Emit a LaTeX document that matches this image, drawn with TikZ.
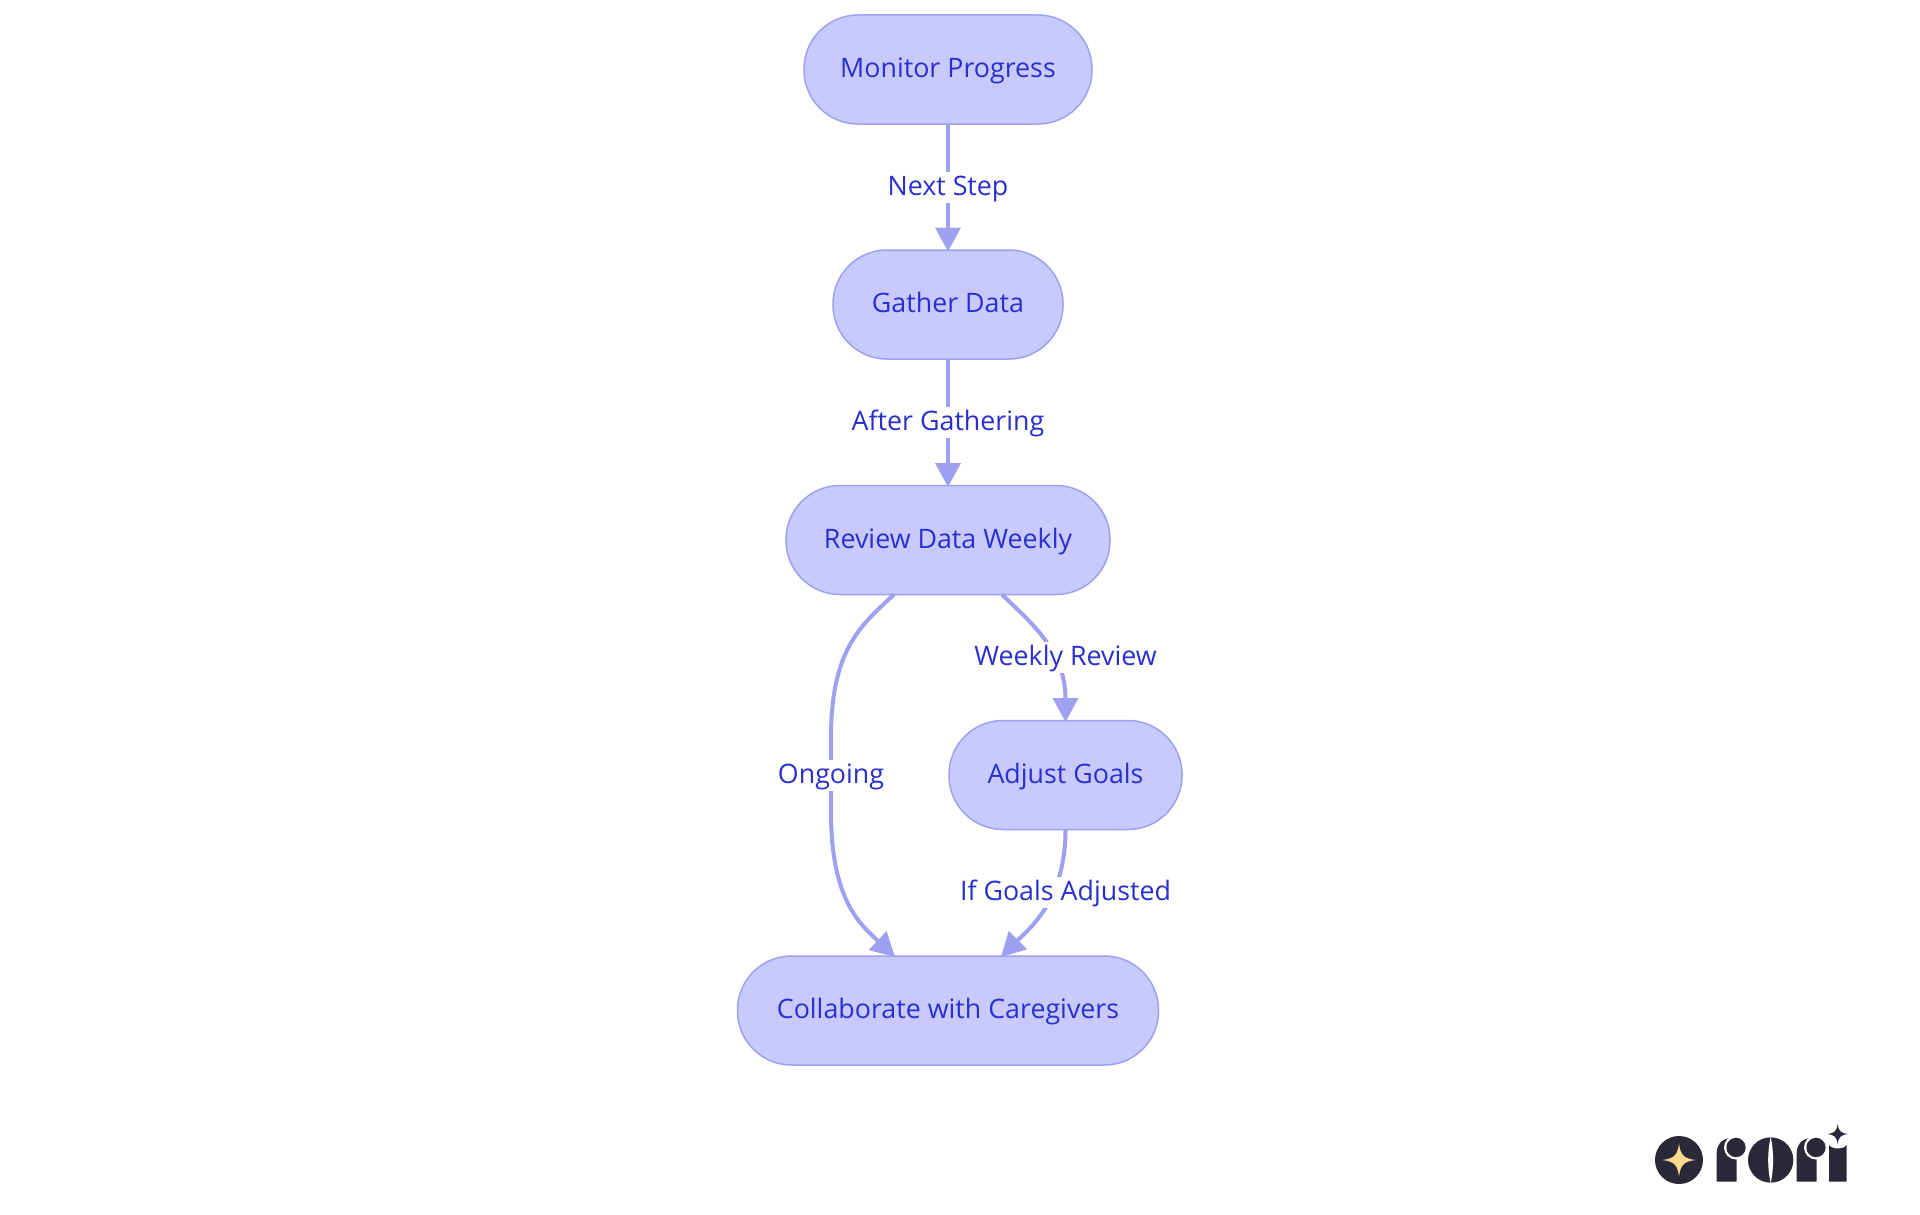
\documentclass[tikz,border=0pt]{standalone}
\usepackage{fontspec}
\setmainfont{Open Sans}
\usetikzlibrary{arrows.meta}
\definecolor{nodefill}{HTML}{C8CAFD}
\definecolor{nodeline}{HTML}{9EA1F2}
\definecolor{inktext}{HTML}{2A2FCF}
\definecolor{logodark}{HTML}{2A2938}
\definecolor{logogold}{HTML}{FFD98C}
\tikzset{
  flowbox/.style={draw=nodeline,fill=nodefill,line width=1.5pt,rounded corners=54pt,minimum height=109pt,
    inner sep=0pt,outer sep=0pt,text=inktext,text height=23.5pt,text depth=7.5pt,
    font=\fontsize{26.8pt}{30pt}\selectfont},
  edgelabel/.style={fill=white,text=inktext,inner sep=0pt,outer sep=0pt,text height=23.5pt,text depth=7.5pt,
    font=\fontsize{26.8pt}{30pt}\selectfont},
  flow/.style={draw=nodeline,line width=4pt,shorten >=-1.5pt,-{Triangle[length=24pt,width=25pt,color=nodeline]}},
}
\newcommand{\fourstar}[4]{\fill[#1,shift={(#2,#3)},scale=#4] (0,-1) .. controls (.08,-.3) and (.3,-.08) .. (1,0) .. controls (.3,.08) and (.08,.3) .. (0,1) .. controls (-.08,.3) and (-.3,.08) .. (-1,0) .. controls (-.3,-.08) and (-.08,-.3) .. (0,-1) -- cycle;}
\begin{document}
\begin{tikzpicture}[x=1pt,y=-1pt]
\useasboundingbox (0,0) rectangle (1920,1215);
\fill[white] (0,0) rectangle (1920,1215);
\node[flowbox,minimum width=288pt] (monitor) at (948,69.5) {Monitor Progress};
\node[flowbox,minimum width=230pt] (gather) at (948,304.5) {Gather Data};
\node[flowbox,minimum width=324pt] (review) at (948,540) {Review Data Weekly};
\node[flowbox,minimum width=233pt] (adjust) at (1065.5,775) {Adjust Goals};
\node[flowbox,minimum width=421pt] (collab) at (948,1010.5) {Collaborate with Caregivers};
\draw[flow] (monitor) -- (gather);
\draw[flow] (gather) -- (review);
\draw[flow] ([xshift=-54pt]review.south) .. controls (860,626) and (831,650) .. (831,738) -- (831,812) .. controls (831,900) and (860,924) .. ([xshift=-54pt]collab.north);
\draw[flow] ([xshift=54pt]review.south) .. controls (1030,622) and (1065.5,650) .. (adjust.north);
\draw[flow] (adjust.south) .. controls (1065.5,900) and (1030,928) .. ([xshift=54pt]collab.north);
\node[edgelabel] (l1) at (948,187) {Next Step};
\node[edgelabel] (l2) at (948,422) {After Gathering};
\node[edgelabel] (l3) at (1065.5,657) {Weekly Review};
\node[edgelabel] (l4) at (831,775) {Ongoing};
\node[edgelabel] (l5) at (1065.5,892.5) {If Goals Adjusted};
\begin{scope}[shift={(1640,1110)},x=.33333pt,y=-.33333pt]
\fill[logodark] (117,150) circle[radius=72];
\fourstar{logogold}{117}{150}{50}
% first r
\fill[logodark] (230,215) -- (230,130) .. controls (230,105) and (245,86) .. (272,84) -- (290,120) -- (290,215) -- cycle;
\fill[white] (288,112.5) circle[radius=36];
\fill[logodark] (288,112.5) circle[radius=29];
% o
\fill[logodark] (392,150) circle[radius=68];
\fill[white] (392,80) .. controls (382,130) and (382,170) .. (392,220) .. controls (402,170) and (402,130) .. (392,80) -- cycle;
% second r
\fill[logodark] (470,215) -- (470,130) .. controls (470,105) and (485,86) .. (512,84) -- (530,120) -- (530,215) -- cycle;
\fill[white] (528,112.5) circle[radius=36];
\fill[logodark] (528,112.5) circle[radius=29];
% i
\fill[logodark] (567,215) -- (567,105) .. controls (576,119) and (611,119) .. (620,105) -- (620,215) -- cycle;
\fourstar{logodark}{593}{72}{31}
\end{scope}
\end{tikzpicture}
\end{document}
